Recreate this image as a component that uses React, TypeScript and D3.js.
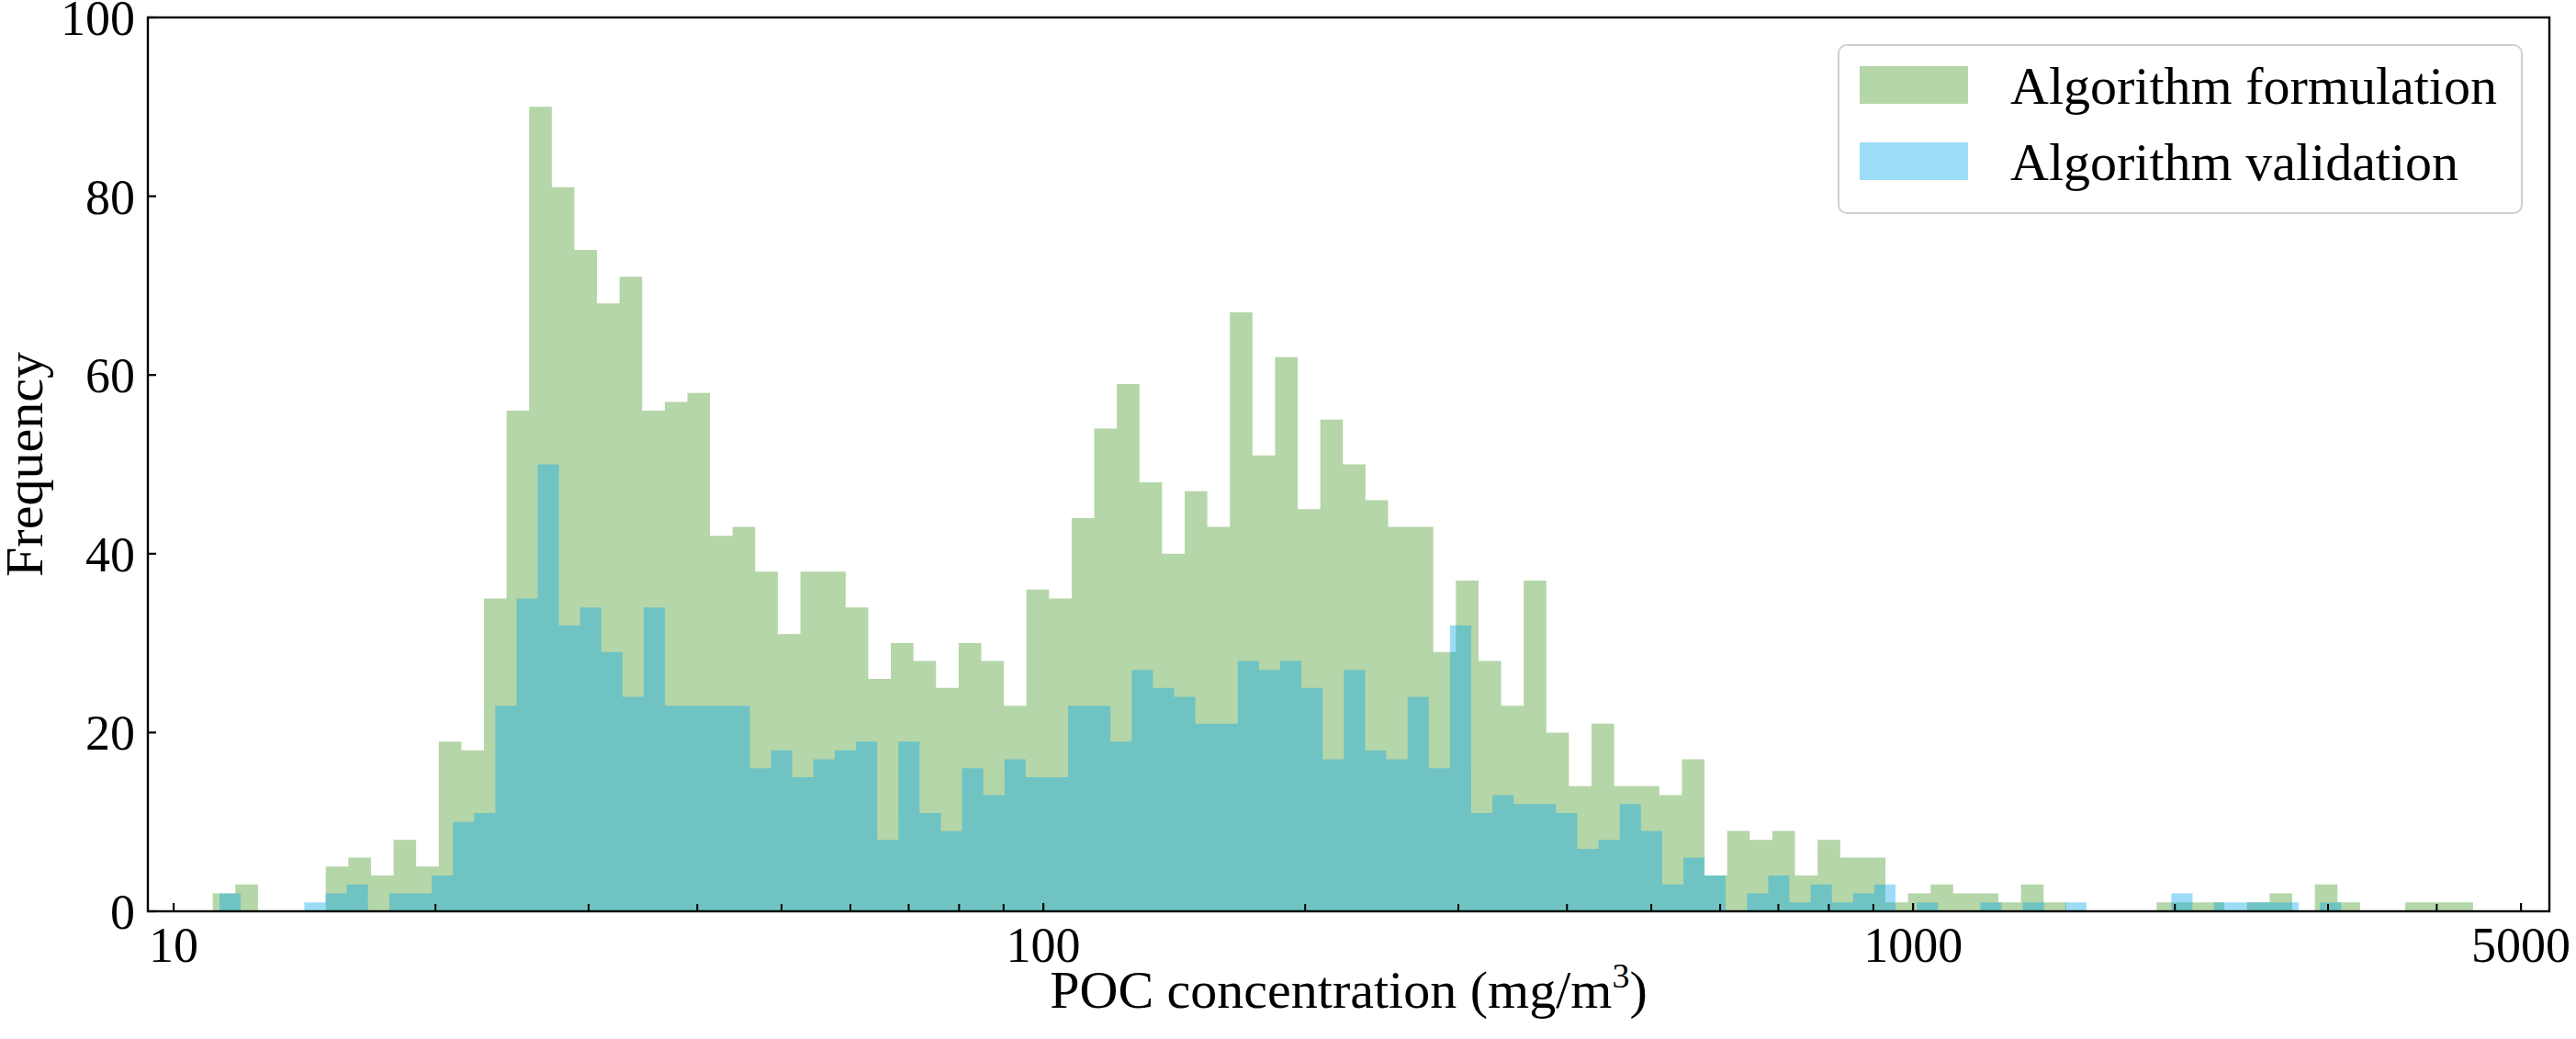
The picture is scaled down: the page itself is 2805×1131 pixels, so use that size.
import * as d3 from 'd3'
import React from 'react'

// histogram counts, 100 log-spaced bins per data set
const formulationRange = [11.09, 4404]
const formulationCounts = [
    2, 3, 0, 0, 0, 5, 6, 4, 8, 5, 19, 18, 35, 56, 90, 81, 74, 68, 71, 56,
    57, 58, 42, 43, 38, 31, 38, 38, 34, 26, 30, 28, 25, 30, 28, 23, 36, 35, 44, 54,
    59, 48, 40, 47, 43, 67, 51, 62, 45, 55, 50, 46, 43, 43, 29, 37, 28, 23, 37, 20,
    14, 21, 14, 14, 13, 17, 4, 9, 8, 9, 4, 8, 6, 6, 1, 2, 3, 2, 2, 1,
    3, 1, 0, 0, 0, 0, 1, 1, 1, 0, 1, 2, 0, 3, 1, 0, 0, 1, 1, 1,
]

const validationRange = [11.29, 3105]
const validationCounts = [
    2, 0, 0, 0, 1, 2, 3, 0, 2, 2, 4, 10, 11, 23, 35, 50, 32, 34, 29, 24,
    34, 23, 23, 23, 23, 16, 18, 15, 17, 18, 19, 8, 19, 11, 9, 16, 13, 17, 15, 15,
    23, 23, 19, 27, 25, 24, 21, 21, 28, 27, 28, 25, 17, 27, 18, 17, 24, 16, 32, 11,
    13, 12, 12, 11, 7, 8, 12, 9, 3, 6, 4, 0, 2, 4, 1, 3, 1, 2, 3, 0,
    1, 0, 0, 1, 0, 1, 0, 1, 0, 0, 0, 0, 2, 0, 1, 1, 1, 1, 0, 1,
]

const seriesNames = ['Algorithm formulation', 'Algorithm validation']
const seriesColors = ['#b5d6a8', 'rgb(10,168,235)']
const seriesOpacity = [1, 0.4]

const xMajorTicks = [10, 100, 1000, 5000]
const xMinorTicks = [20, 30, 40, 50, 60, 70, 80, 90, 200, 300, 400, 500, 600, 700, 800, 900, 2000, 3000, 4000]
const yTicks = [0, 20, 40, 60, 80, 100]

const W = 2805
const H = 1131
const plot = { left: 161, right: 2776, top: 19, bottom: 992 }
const font = '"Liberation Serif", "Times New Roman", Times, serif'

function makeBins(range: number[], counts: number[]) {
    const lo = Math.log10(range[0])
    const hi = Math.log10(range[1])
    const step = (hi - lo) / counts.length
    return counts.map((c, i) => ({
        x0: Math.pow(10, lo + i * step),
        x1: Math.pow(10, lo + (i + 1) * step),
        count: c,
    }))
}

export default function App() {
    const x = d3.scaleLog().domain([9.34, 5390]).range([plot.left, plot.right])
    const y = d3.scaleLinear().domain([0, 100]).range([plot.bottom, plot.top])

    const series = [
        makeBins(formulationRange, formulationCounts),
        makeBins(validationRange, validationCounts),
    ]

    // one path per series so neighbouring bars don't show seams
    const barsPath = (bins: ReturnType<typeof makeBins>) => {
        const p = d3.path()
        bins.forEach((b) => {
            if (b.count <= 0) return
            p.rect(x(b.x0), y(b.count), x(b.x1) - x(b.x0), y(0) - y(b.count))
        })
        return p.toString()
    }

    return (
        <svg
            width={W}
            height={H}
            style={{ position: 'absolute', left: 0, top: 0, background: '#fff' }}
            fontFamily={font}
        >
            {/* bars */}
            {series.map((bins, s) => (
                <path key={s} d={barsPath(bins)} fill={seriesColors[s]} fillOpacity={seriesOpacity[s]} />
            ))}

            {/* frame */}
            <rect
                x={plot.left}
                y={plot.top}
                width={plot.right - plot.left}
                height={plot.bottom - plot.top}
                fill="none"
                stroke="#000"
                strokeWidth={2.4}
            />

            {/* x ticks, pointing inward */}
            {xMinorTicks.map((t) => (
                <line key={'m' + t} x1={x(t)} x2={x(t)} y1={plot.bottom} y2={plot.bottom - 8} stroke="#000" strokeWidth={2} />
            ))}
            {xMajorTicks.map((t) => (
                <g key={t}>
                    <line x1={x(t)} x2={x(t)} y1={plot.bottom} y2={plot.bottom - 9} stroke="#000" strokeWidth={2.2} />
                    <text x={x(t)} y={1047} fontSize={54} textAnchor="middle">
                        {t}
                    </text>
                </g>
            ))}

            {/* y ticks */}
            {yTicks.map((t) => (
                <g key={t}>
                    <line x1={plot.left} x2={plot.left + 9} y1={y(t)} y2={y(t)} stroke="#000" strokeWidth={2.2} />
                    <text x={147} y={y(t)} dy="0.35em" fontSize={54} textAnchor="end">
                        {t}
                    </text>
                </g>
            ))}

            {/* axis labels */}
            <text x={(plot.left + plot.right) / 2} y={1097} fontSize={58} textAnchor="middle">
                POC concentration (mg/m
                <tspan fontSize={38} dy={-22}>3</tspan>
                <tspan dy={22}>)</tspan>
            </text>
            <text
                transform={`translate(46,${(plot.top + plot.bottom) / 2}) rotate(-90)`}
                fontSize={58}
                textAnchor="middle"
            >
                Frequency
            </text>

            {/* legend */}
            <g>
                <rect x={2002} y={49} width={744} height={183} rx={9} fill="#fff" fillOpacity={0.8} stroke="#d0d0d0" strokeWidth={2} />
                {seriesNames.map((name, i) => (
                    <g key={name} transform={`translate(2025,${72 + i * 83})`}>
                        <rect width={118} height={41} fill={seriesColors[i]} fillOpacity={seriesOpacity[i]} />
                        <text x={164} y={20.5} dy="0.35em" fontSize={58}>
                            {name}
                        </text>
                    </g>
                ))}
            </g>
        </svg>
    )
}
